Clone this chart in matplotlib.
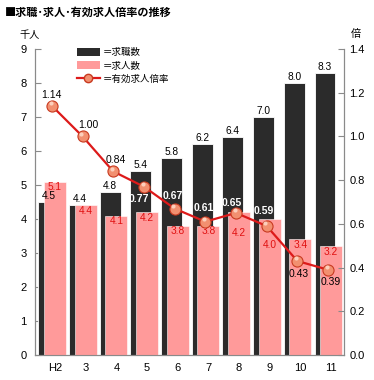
import matplotlib
matplotlib.use("Agg")
import matplotlib.pyplot as plt
from matplotlib.patches import Patch
from matplotlib.lines import Line2D
import numpy as np

plt.rcParams['font.family'] = ['Liberation Sans', 'Noto Sans CJK JP', 'DejaVu Sans']

categories = ['H2', '3', '4', '5', '6', '7', '8', '9', '10', '11']
seekers = [4.5, 4.4, 4.8, 5.4, 5.8, 6.2, 6.4, 7.0, 8.0, 8.3]      # 求職数 (千人)
openings = [5.1, 4.4, 4.1, 4.2, 3.8, 3.8, 4.2, 4.0, 3.4, 3.2]     # 求人数 (千人)
ratio = [1.14, 1.00, 0.84, 0.77, 0.67, 0.61, 0.65, 0.59, 0.43, 0.39]  # 有効求人倍率
left_ticks = [0, 1, 2, 3, 4, 5, 6, 7, 8, 9]
right_ticks = [0.0, 0.2, 0.4, 0.6, 0.8, 1.0, 1.2, 1.4]

# ratio label placement (offset in points, color)
ratio_style = [((0, 8), 'black'), ((4, 8), 'black'), ((2, 8), 'black'),
               ((-4, -8.5), 'white'), ((-1, 9), 'white'), ((-1, 10), 'white'),
               ((-3, 7), 'white'), ((-2, 11), 'white'), ((1, -9), 'black'),
               ((2, -9), 'black')]
pink_label_drop = [0.5, 0.5, 0.5, 0.5, 0.5, 0.5, 11.5, 15, 0.5, 0.5]

BLACK = '#2b2b2b'
PINK = '#ff9a9a'
RED = '#dd1a1a'
GRAY = '#8a8a8a'

fig = plt.figure(figsize=(3.74, 3.80), dpi=100)
ax = fig.add_axes([35/374, 1-355/380, 309/374, 306/380])
ax2 = ax.twinx()

x = np.arange(len(categories))
bw_black, bw_pink = 0.68, 0.72
off_black, off_line = -0.2, -0.1

ax.bar(x + off_black, seekers, width=bw_black, color=BLACK, edgecolor='white', linewidth=0.6, zorder=2)
ax.bar(x, openings, width=bw_pink, color=PINK, edgecolor='white', linewidth=0.4, zorder=3)

for xi, v in zip(x, seekers):
    ax.annotate(f'{v:.1f}', (xi + off_black, v), xytext=(0, 0.8), textcoords='offset points',
                ha='center', va='bottom', fontsize=7.3, color='black', zorder=5)
for xi, v, d in zip(x, openings, pink_label_drop):
    ax.annotate(f'{v:.1f}', (xi, v), xytext=(0, -d), textcoords='offset points',
                ha='center', va='top', fontsize=7.3, color='#e01010', zorder=5)

ax.set_xlim(-0.65, 9.42)
ax.set_ylim(0, 9)
ax.set_yticks(left_ticks)
ax.set_yticklabels([str(t) for t in left_ticks])
ax.set_xticks(x)
ax.set_xticklabels(categories)
ax.tick_params(axis='x', length=0, pad=6, labelsize=8)
ax.tick_params(axis='y', direction='in', length=4, color=GRAY, pad=6, labelsize=8)

ax2.set_ylim(0, 1.4)
ax2.set_yticks(right_ticks)
ax2.set_yticklabels([f'{t:.1f}' for t in right_ticks])
ax2.tick_params(axis='y', direction='in', length=4, color=GRAY, pad=4, labelsize=8)

ax2.plot(x + off_line, ratio, color=RED, linewidth=1.6, marker='o', markersize=8,
         markerfacecolor='#f29070', markeredgecolor='#c83a20', markeredgewidth=0.8, zorder=4)
ax2.plot(x + off_line - 0.04, np.array(ratio) + 0.012, linestyle='none', marker='o',
         markersize=3, markerfacecolor='#ffe0d0', markeredgewidth=0, alpha=0.8, zorder=5)
for xi, v, (off, col) in zip(x, ratio, ratio_style):
    ax2.annotate(f'{v:.2f}', (xi + off_line, v), xytext=off, textcoords='offset points',
                 ha='center', va='center', fontsize=7.5, color=col,
                 fontweight='bold' if col == 'white' else 'normal', zorder=6)

for a in (ax, ax2):
    a.spines['top'].set_visible(False)
    for s in ('left', 'right', 'bottom'):
        a.spines[s].set_color(GRAY)
        a.spines[s].set_linewidth(0.8)
ax.set_zorder(1)
ax2.set_zorder(2)
ax2.patch.set_visible(False)

handles = [Patch(facecolor=BLACK, edgecolor='none'),
           Patch(facecolor=PINK, edgecolor='none'),
           Line2D([0], [0], color=RED, linewidth=1.6, marker='o', markersize=6,
                  markerfacecolor='#f29070', markeredgecolor='#c83a20')]
labels = ['＝求職数', '＝求人数', '＝有効求人倍率']
fig.legend(handles, labels, loc='upper left', bbox_to_anchor=(77/374, 1-48/380),
           frameon=False, handlelength=2.4, handleheight=0.9,
           handletextpad=0.3, labelspacing=0.45, borderpad=0, borderaxespad=0,
           prop={'family': ['Noto Sans CJK JP'], 'size': 6.8})

fig.text(5/374, 1-12/380, '■求職･求人･有効求人倍率の推移', fontsize=8, fontweight='bold',
         family=['Noto Sans CJK JP'], va='center', ha='left')
fig.text(30/374, 1-35/380, '千人', fontsize=7.3, family=['Noto Sans CJK JP'], va='center', ha='center')
fig.text(356/374, 1-34/380, '倍', fontsize=7.3, family=['Noto Sans CJK JP'], va='center', ha='center')

fig.savefig('out.png', dpi=100)
